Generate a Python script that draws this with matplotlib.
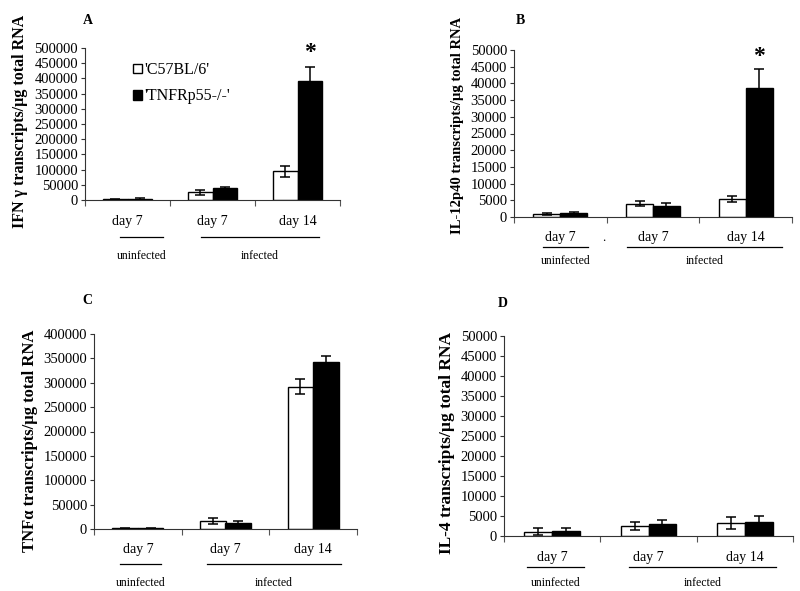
import matplotlib
matplotlib.use("Agg")
import matplotlib.pyplot as plt
from matplotlib.transforms import blended_transform_factory
from matplotlib.lines import Line2D

plt.rcParams['font.family'] = ['Liberation Serif', 'DejaVu Serif']

# data
groups = ['day 7', 'day 7', 'day 14']
series_names = ["'C57BL/6'", "'TNFRp55-/-'"]

ifn_c57 = [3000, 25000, 94000]
ifn_c57_err = [1500, 7000, 17000]
ifn_tnfr = [3000, 38000, 391000]
ifn_tnfr_err = [4000, 4000, 46000]

il12_c57 = [1000, 4000, 5300]
il12_c57_err = [300, 800, 900]
il12_tnfr = [1300, 3400, 38500]
il12_tnfr_err = [300, 900, 5800]

tnf_c57 = [1500, 16500, 292000]
tnf_c57_err = [500, 6500, 16000]
tnf_tnfr = [1500, 11500, 342000]
tnf_tnfr_err = [500, 4500, 12000]

il4_c57 = [1100, 2500, 3200]
il4_c57_err = [800, 1000, 1500]
il4_tnfr = [1300, 3000, 3500]
il4_tnfr_err = [800, 1100, 1500]

W, H = 800, 591
fig = plt.figure(figsize=(8, 5.91), dpi=100)


def fx(px):
    return px / W


def fy(py):
    return 1 - py / H


def panel(box, c57, c57e, tnfr, tnfre, ymax, ystep, letter, letter_xy,
          ylabel, ylabel_xy, ylabel_size, ys, lines, star=False, star_y=None):
    left, top, right, bottom = box
    ax = fig.add_axes([fx(left), fy(bottom), fx(right - left), (bottom - top) / H])
    x = range(len(groups))
    w = 0.29
    xw = [i - w / 2 for i in x]
    xb = [i + w / 2 for i in x]
    ekw = dict(ecolor='black', elinewidth=1.1, capsize=3.5, capthick=1.1)
    ax.bar(xw, c57, w, yerr=c57e, color='white', edgecolor='black',
           linewidth=1.0, error_kw=ekw, label=series_names[0])
    ax.bar(xb, tnfr, w, yerr=tnfre, color='black', edgecolor='black',
           linewidth=1.0, error_kw=ekw, label=series_names[1])
    ax.set_xlim(-0.5, 2.5)
    ax.set_ylim(0, ymax)
    ax.set_yticks(range(0, ymax + 1, ystep))
    ax.set_xticks([-0.5, 0.5, 1.5, 2.5])
    ax.set_xticklabels([])
    for s in ['top', 'right']:
        ax.spines[s].set_visible(False)
    for s in ['left', 'bottom']:
        ax.spines[s].set_linewidth(0.8)
        ax.spines[s].set_color('#333333')
    ax.tick_params(axis='y', direction='out', length=3, width=0.8,
                   labelsize=10.5, pad=2, color='#333333')
    ax.tick_params(axis='x', direction='out', length=4, width=0.8,
                   color='#555555')

    tr = blended_transform_factory(ax.transData, fig.transFigure)
    day_y, line_y, inf_y = ys
    for i, g in enumerate(groups):
        ax.text(i, fy(day_y), g, transform=tr, ha='center', va='center',
                fontsize=10)
    (u0, u1), (i0, i1) = lines
    for a, b, lab in [(u0, u1, 'uninfected'), (i0, i1, 'infected')]:
        fig.add_artist(Line2D([fx(a), fx(b)], [fy(line_y), fy(line_y)],
                              color='black', linewidth=0.9))
        fig.text(fx((a + b) / 2), fy(inf_y), lab, ha='center', va='center',
                 fontsize=8.5)

    fig.text(fx(letter_xy[0]), fy(letter_xy[1]), letter, ha='center',
             va='center', fontsize=10, fontweight='bold')
    fig.text(fx(ylabel_xy[0]), fy(ylabel_xy[1]), ylabel, ha='center',
             va='center', rotation=90, fontsize=ylabel_size, fontweight='bold')
    if star:
        ax.text(2 + w / 2, fy(star_y), '*', transform=tr, ha='center',
                va='center', fontsize=17, fontweight='bold')
    return ax


axA = panel((85, 48, 340, 200), ifn_c57, ifn_c57_err, ifn_tnfr, ifn_tnfr_err,
            500000, 50000, 'A', (88, 20),
            'IFN \u03b3 transcripts/\u00b5g total RNA', (20, 121), 11.5,
            (221, 237, 256), ((120, 163), (201, 319)), star=True, star_y=52)

axB = panel((514, 50, 792, 217), il12_c57, il12_c57_err, il12_tnfr,
            il12_tnfr_err, 50000, 5000, 'B', (520, 20),
            'IL-12p40 transcripts/\u00b5g total RNA', (457, 125), 10.5,
            (238, 247, 261), ((543, 588), (627, 782)), star=True, star_y=56)

axC = panel((94, 334, 357, 529), tnf_c57, tnf_c57_err, tnf_tnfr,
            tnf_tnfr_err, 400000, 50000, 'C', (87, 300),
            'TNF\u03b1 transcripts/\u00b5g total RNA', (30, 441), 12,
            (549, 564, 583), ((120, 161), (207, 341)))

axD = panel((504, 336, 793, 536), il4_c57, il4_c57_err, il4_tnfr,
            il4_tnfr_err, 50000, 5000, 'D', (503, 304),
            'IL-4 transcripts/\u00b5g total RNA', (447, 443), 12.5,
            (557, 567, 583), ((527, 584), (629, 776)))

axA.legend(loc='upper left', bbox_to_anchor=(fx(133), fy(62)),
           bbox_transform=fig.transFigure, frameon=False, fontsize=11.5,
           handlelength=0.55, handleheight=0.55, handletextpad=0.15,
           labelspacing=0.65, borderpad=0, borderaxespad=0)

# stray mark in the scan
fig.text(fx(604), fy(238), '.', ha='center', va='center', fontsize=9)

fig.savefig('out.png', dpi=100, facecolor='white')
